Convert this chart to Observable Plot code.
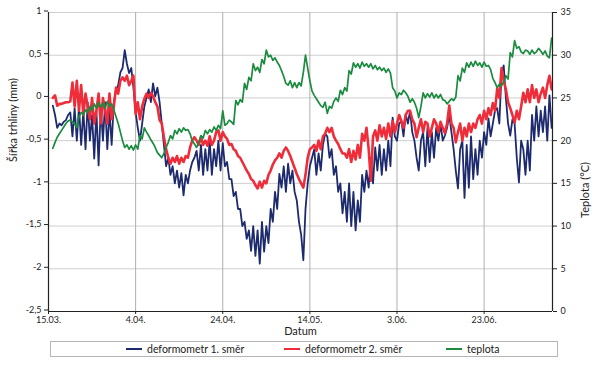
<!DOCTYPE html>
<html><head><meta charset="utf-8">
<script src="https://cdn.jsdelivr.net/npm/d3@7"></script>
<script src="https://cdn.jsdelivr.net/npm/@observablehq/plot@0.6"></script>
<style>
body{margin:0;background:#fff;font-family:Lato,"Open Sans",sans-serif;}
#wrap{position:relative;width:600px;height:366px;overflow:hidden;}
#legend{position:absolute;left:50px;top:341px;width:508px;height:16px;border:1px solid #b5b5b5;box-sizing:border-box;font-size:10.5px;color:#222;}
.item{position:absolute;top:0;height:14px;display:flex;align-items:center;white-space:nowrap;}
.sw{display:inline-block;width:16px;height:0;border-top:2px solid;margin-right:5px;}
</style></head>
<body><div id="wrap"><div id="chart"></div><div id="legend"></div></div>
<script>
// Series names
const seriesNames = ["deformometr 1. směr", "deformometr 2. směr", "teplota"];
const seriesColors = ["#1d2a6e", "#ef2d3a", "#1a8b3f"];

// values every 12 h, starting 16.03. 00:00
const def1 = [
-0.09,-0.2, -0.35,-0.3, -0.32,-0.28, -0.26,-0.2, -0.17,-0.45, -0.12,-0.5, -0.1,-0.55, -0.15,-0.6, -0.05,-0.5, -0.2,-0.71,
-0.15,-0.79, -0.1,-0.5, -0.05,-0.6, -0.15,-0.55, -0.05,0.09, 0.15,0.3, 0.35,0.56, 0.4,0.29, 0.35,0.12, -0.17,-0.35,
-0.5,-0.3, -0.1,0.0, 0.1,-0.05, 0.17,0.02, 0.12,-0.05, -0.3,-0.55, -0.8,-0.7, -0.9,-0.8, -1.0,-0.85, -1.05,-0.88,
-1.14,-0.9, -1.0,-0.85, -0.75,-0.7, -0.62,-0.85, -0.55,-0.9, -0.6,-0.85, -0.5,-0.9, -0.6,-0.8, -0.5,-0.85, -0.53,-0.8,
-0.75,-0.95, -0.95,-1.15, -1.1,-1.3, -1.3,-1.5, -1.45,-1.65, -1.55,-1.79, -1.5,-1.85, -1.55,-1.94, -1.45,-1.8, -1.5,-1.7,
-1.3,-1.45, -1.1,-1.3, -0.89,-1.05, -0.8,-1.1, -0.77,-1.0, -0.85,-1.1, -1.2,-1.45, -1.6,-1.9, -1.3,-1.0, -0.8,-0.7,
-0.6,-0.9, -0.65,-0.85, -0.55,-0.42, -0.45,-0.7, -0.6,-0.9, -0.8,-1.1, -1.0,-1.35, -1.1,-1.45, -1.0,-1.5, -1.1,-1.55,
-1.2,-1.45, -0.9,-1.1, -0.85,-1.05, -0.7,-1.0, -0.58,-0.85, -0.55,-0.9, -0.6,-0.85, -0.5,-0.8, -0.23,-0.45, -0.5,-0.3,
-0.27,-0.45, -0.19,-0.3, -0.15,-0.4, -0.5,-0.7, -0.85,-0.5, -0.4,-0.8, -0.35,-0.75, -0.4,-0.7, -0.35,-0.5, -0.3,-0.5,
-0.44,-0.35, -0.2,-0.4, -0.6,-0.85, -1.06,-0.6, -0.5,-1.17, -0.55,-1.05, -0.45,-0.95, -0.6,-0.9, -0.5,-0.7, -0.4,-0.55,
-0.24,-0.45, -0.3,-0.15, -0.12,-0.3, 0.3,0.38, 0.0,-0.3, -0.44,-0.25, -0.3,-0.7, -0.99,-0.5, -0.6,-0.9, -0.5,-0.85,
-0.2,-0.5, -0.1,-0.45, -0.15,-0.4, -0.1,-0.5, 0.03,-0.35
];
const def2 = [
0.0,0.03, -0.09,-0.07, -0.07,-0.06, -0.05,-0.05, -0.04,0.18, -0.1,0.2, -0.15,0.15, -0.2,0.05, -0.1,-0.25, 0.0,-0.3,
-0.15,0.05, -0.3,0.0, -0.15,-0.3, 0.05,-0.25, -0.1,0.12, 0.05,0.2, 0.24,0.2, 0.26,0.15, 0.2,0.26, -0.19,-0.05,
-0.25,-0.1, -0.01,0.05, 0.0,0.06, 0.02,-0.05, -0.1,-0.26, -0.3,-0.46, -0.6,-0.7, -0.77,-0.7, -0.75,-0.68, -0.77,-0.7,
-0.75,-0.68, -0.7,-0.58, -0.5,-0.46, -0.5,-0.55, -0.46,-0.55, -0.5,-0.56, -0.45,-0.55, -0.5,-0.4, -0.38,-0.5, -0.4,-0.45,
-0.48,-0.55, -0.54,-0.6, -0.62,-0.68, -0.7,-0.75, -0.8,-0.85, -0.89,-0.95, -0.97,-1.02, -1.06,-0.98, -1.05,-0.97, -1.0,-0.9,
-0.85,-0.78, -0.73,-0.7, -0.65,-0.7, -0.62,-0.58, -0.62,-0.68, -0.75,-0.82, -0.89,-0.95, -1.0,-1.05, -0.9,-0.7, -0.6,-0.58,
-0.55,-0.62, -0.5,-0.6, -0.45,-0.42, -0.35,-0.4, -0.35,-0.45, -0.5,-0.54, -0.6,-0.65, -0.65,-0.7, -0.6,-0.75, -0.62,-0.72,
-0.55,-0.7, -0.42,-0.5, -0.35,-0.6, -0.97,-0.45, -0.38,-0.5, -0.32,-0.45, -0.35,-0.48, -0.3,-0.45, -0.27,-0.4, -0.3,-0.2,
-0.27,-0.35, -0.2,-0.15, -0.15,-0.25, -0.3,-0.46, -0.35,-0.25, -0.4,-0.28, -0.3,-0.45, -0.35,-0.25, -0.3,-0.4, -0.28,-0.35,
-0.41,-0.3, -0.09,-0.3, -0.35,-0.52, -0.4,-0.3, -0.5,-0.35, -0.45,-0.3, -0.4,-0.3, -0.35,-0.25, -0.2,-0.3, -0.15,-0.25,
-0.12,-0.2, -0.06,-0.15, 0.11,0.0, 0.35,0.2, 0.1,-0.05, -0.12,-0.2, -0.29,-0.15, -0.25,-0.1, 0.06,-0.05, 0.1,-0.05,
0.15,0.0, 0.1,-0.05, 0.05,0.12, 0.0,0.15, 0.26,0.1
];
const teplota = [
19.1,19.8, 20.4,20.8, 21.2,21.6, 22.0,22.3, 22.4,22.2, 22.0,21.5, 22.8,23.3, 23.0,23.6, 23.3,24.0, 23.5,24.3,
23.8,24.5, 23.9,24.4, 23.8,24.6, 24.0,24.3, 23.6,22.8, 22.0,21.0, 20.0,19.2, 19.5,19.0, 19.4,18.9, 19.5,19.0,
20.6,20.2, 21.5,21.0, 20.6,20.1, 19.7,19.2, 18.6,18.3, 18.0,18.5, 19.2,19.8, 20.6,20.2, 21.2,20.8, 21.4,21.0,
21.5,21.2, 21.3,20.8, 20.0,19.6, 19.2,19.8, 20.6,20.3, 21.2,20.8, 21.3,21.0, 21.6,21.2, 21.8,21.4, 23.5,21.8,
22.0,22.4, 22.2,21.9, 24.7,24.2, 24.8,24.5, 26.7,26.0, 27.4,27.0, 29.0,28.2, 28.6,28.0, 29.5,29.0, 30.6,29.8,
30.0,29.4, 29.7,29.2, 28.8,28.2, 27.5,26.7, 26.5,27.0, 26.2,26.8, 26.2,26.8, 26.4,28.0, 30.0,28.5, 27.0,25.8,
25.3,24.9, 24.5,24.1, 23.9,24.5, 23.2,24.0, 23.8,24.6, 25.0,24.6, 25.9,25.4, 26.2,25.8, 28.2,27.8, 29.1,28.6,
29.0,28.5, 29.2,28.7, 29.0,28.6, 29.0,28.4, 28.8,28.3, 28.6,28.2, 28.5,28.0, 28.4,27.9, 26.2,25.8, 25.0,25.6,
25.4,25.9, 25.6,25.2, 24.5,24.9, 24.5,23.8, 22.7,24.0, 25.6,25.0, 25.5,25.1, 25.6,25.0, 25.4,25.0, 25.4,24.8,
24.7,24.3, 24.6,24.9, 24.7,25.1, 27.6,27.0, 28.5,28.0, 29.1,28.6, 29.2,28.7, 29.3,28.8, 29.1,28.6, 29.2,28.7,
28.8,28.3, 27.3,26.8, 26.2,26.6, 26.4,26.9, 27.6,27.2, 30.3,29.8, 31.7,30.8, 31.0,30.4, 30.2,30.6, 30.5,30.1,
30.6,30.2, 30.4,30.8, 30.5,30.1, 30.5,29.9, 29.7,32.0
];

// ticks
const leftTicks = [-2.5, -2, -1.5, -1, -0.5, 0, 0.5, 1];
const rightTicks = [0, 5, 10, 15, 20, 25, 30, 35];
const xTickLabels = ["2015-03-15", "2015-04-04", "2015-04-24", "2015-05-14", "2015-06-03", "2015-06-23"];

const DAY = 864e5;
const t0 = Date.UTC(2015, 2, 15);
const xStart = new Date(t0);
const xEnd = new Date(t0 + 115.7 * DAY);
const xTicks = xTickLabels.map(s => new Date(s + "T00:00:00Z"));

const rows = def1.map((v, i) => ({
  date: new Date(t0 + (1 + i / 2) * DAY),
  def1: v, def2: def2[i], temp: teplota[i]
}));
const tToY = t => t / 10 - 2.5;
const fmtDate = d3.utcFormat("%-d.%m.");
const fmtNum = v => String(v).replace(".", ",");

const chart = Plot.plot({
  width: 600, height: 340,
  marginLeft: 48, marginRight: 48, marginTop: 12, marginBottom: 29,
  style: {fontFamily: "Lato, 'Open Sans', sans-serif", fontSize: "9px", color: "#222", background: "white", overflow: "visible"},
  x: {type: "utc", domain: [xStart, xEnd]},
  y: {domain: [-2.5, 1]},
  marks: [
    Plot.ruleY(leftTicks, {stroke: "#cfcfcf", strokeWidth: 1}),
    Plot.ruleX(xTicks, {stroke: "#b0b0b0", strokeWidth: 1}),
    Plot.lineY(rows, {x: "date", y: "def1", stroke: seriesColors[0], strokeWidth: 1.8}),
    Plot.lineY(rows, {x: "date", y: "def2", stroke: seriesColors[1], strokeWidth: 2.6}),
    Plot.lineY(rows, {x: "date", y: d => tToY(d.temp), stroke: seriesColors[2], strokeWidth: 1.7}),
    Plot.ruleX([xStart, xEnd], {stroke: "#222", strokeWidth: 1.2}),
    Plot.ruleY([-2.5], {stroke: "#222", strokeWidth: 1.2}),
    Plot.axisY(leftTicks, {anchor: "left", tickFormat: fmtNum, tickSize: 4, tickPadding: 3, dy: -1.5, label: null}),
    Plot.axisY(rightTicks.map(tToY), {anchor: "right", tickFormat: v => String(Math.round((v + 2.5) * 10)), tickSize: 4, tickPadding: 4, label: null}),
    Plot.axisX(xTicks, {tickFormat: fmtDate, tickSize: 3, tickPadding: 2, label: null}),
    Plot.text(["Šířka trhliny (mm)"], {frameAnchor: "left", dx: -35, rotate: -90, fontSize: 11}),
    Plot.text(["Teplota (°C)"], {frameAnchor: "right", dx: 33, rotate: -90, fontSize: 11}),
    Plot.text(["Datum"], {frameAnchor: "bottom", dy: 23, fontSize: 11})
  ]
});
document.getElementById("chart").appendChild(chart);

const legend = document.getElementById("legend");
const lefts = [75, 233, 395];
seriesNames.forEach((n, i) => {
  const it = document.createElement("div");
  it.className = "item";
  it.style.left = lefts[i] + "px";
  it.innerHTML = `<span class="sw" style="border-color:${seriesColors[i]}"></span>${n}`;
  legend.appendChild(it);
});
</script>
</body></html>
